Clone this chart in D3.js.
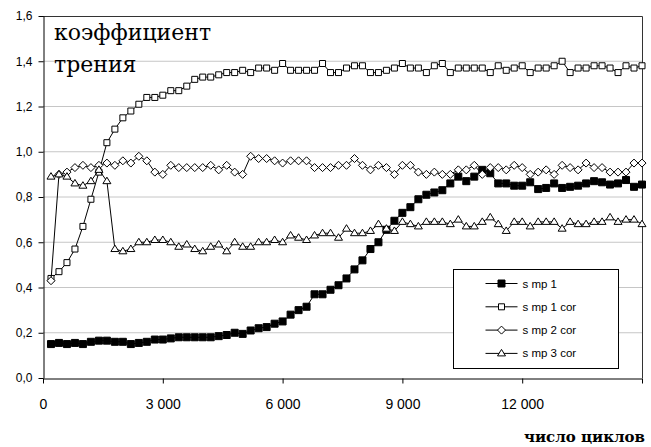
<!DOCTYPE html>
<html>
<head>
<meta charset="utf-8">
<script src="https://cdn.jsdelivr.net/npm/d3@7"></script>
<style>
  body { margin: 0; background: #fff; }
  svg { display: block; }
</style>
</head>
<body>
<div id="chart"></div>
<script>
// Chart size and plot area
const width = 651;
const height = 447;
const margin = { top: 16, right: 9, bottom: 69, left: 43 };

// Cycles (x values), one point every 200 cycles
const cycles = [
  200, 400, 600, 800, 1000, 1200, 1400, 1600, 1800, 2000,
  2200, 2400, 2600, 2800, 3000, 3200, 3400, 3600, 3800, 4000,
  4200, 4400, 4600, 4800, 5000, 5200, 5400, 5600, 5800, 6000,
  6200, 6400, 6600, 6800, 7000, 7200, 7400, 7600, 7800, 8000,
  8200, 8400, 8600, 8800, 9000, 9200, 9400, 9600, 9800, 10000,
  10200, 10400, 10600, 10800, 11000, 11200, 11400, 11600, 11800, 12000,
  12200, 12400, 12600, 12800, 13000, 13200, 13400, 13600, 13800, 14000,
  14200, 14400, 14600, 14800, 15000
];

// Friction coefficient series
const smp1 = [
  0.15, 0.155, 0.15, 0.155, 0.15, 0.16, 0.165, 0.165, 0.16, 0.16,
  0.15, 0.155, 0.16, 0.17, 0.17, 0.175, 0.18, 0.18, 0.18, 0.18,
  0.18, 0.185, 0.19, 0.20, 0.195, 0.21, 0.22, 0.225, 0.24, 0.25,
  0.28, 0.30, 0.315, 0.37, 0.37, 0.39, 0.41, 0.44, 0.48, 0.52,
  0.57, 0.60, 0.655, 0.695, 0.73, 0.755, 0.79, 0.81, 0.82, 0.83,
  0.86, 0.89, 0.87, 0.89, 0.92, 0.905, 0.86, 0.86, 0.85, 0.85,
  0.865, 0.835, 0.84, 0.86, 0.84, 0.845, 0.85, 0.86, 0.87, 0.865,
  0.855, 0.86, 0.875, 0.845, 0.855
];

const smp1cor = [
  0.44, 0.47, 0.51, 0.57, 0.67, 0.79, 0.91, 1.04, 1.10, 1.15,
  1.18, 1.21, 1.24, 1.24, 1.25, 1.27, 1.27, 1.29, 1.32, 1.33,
  1.33, 1.34, 1.35, 1.35, 1.36, 1.35, 1.37, 1.37, 1.36, 1.39,
  1.36, 1.36, 1.36, 1.36, 1.39, 1.35, 1.35, 1.37, 1.38, 1.38,
  1.35, 1.35, 1.36, 1.37, 1.39, 1.37, 1.37, 1.35, 1.38, 1.39,
  1.35, 1.37, 1.37, 1.37, 1.37, 1.35, 1.38, 1.36, 1.37, 1.38,
  1.35, 1.37, 1.37, 1.38, 1.40, 1.35, 1.37, 1.37, 1.38, 1.38,
  1.37, 1.35, 1.38, 1.37, 1.38
];

const smp2cor = [
  0.43, 0.90, 0.91, 0.93, 0.94, 0.93, 0.94, 0.95, 0.94, 0.96,
  0.95, 0.98, 0.96, 0.91, 0.90, 0.94, 0.93, 0.93, 0.93, 0.93,
  0.94, 0.92, 0.94, 0.91, 0.90, 0.98, 0.97, 0.97, 0.96, 0.95,
  0.96, 0.96, 0.96, 0.93, 0.93, 0.93, 0.94, 0.94, 0.97, 0.94,
  0.92, 0.94, 0.93, 0.90, 0.94, 0.94, 0.91, 0.90, 0.91, 0.90,
  0.90, 0.92, 0.92, 0.94, 0.90, 0.93, 0.93, 0.92, 0.94, 0.93,
  0.90, 0.91, 0.92, 0.90, 0.94, 0.93, 0.92, 0.95, 0.93, 0.93,
  0.91, 0.91, 0.91, 0.95, 0.95
];

const smp3cor = [
  0.89, 0.90, 0.89, 0.86, 0.85, 0.87, 0.92, 0.87, 0.57, 0.56,
  0.57, 0.60, 0.60, 0.61, 0.61, 0.60, 0.58, 0.59, 0.57, 0.56,
  0.58, 0.59, 0.56, 0.60, 0.58, 0.58, 0.60, 0.60, 0.61, 0.60,
  0.63, 0.62, 0.61, 0.63, 0.64, 0.64, 0.62, 0.66, 0.64, 0.64,
  0.65, 0.68, 0.66, 0.65, 0.69, 0.68, 0.67, 0.69, 0.69, 0.69,
  0.68, 0.70, 0.67, 0.67, 0.69, 0.71, 0.68, 0.65, 0.69, 0.69,
  0.67, 0.69, 0.69, 0.69, 0.66, 0.69, 0.68, 0.68, 0.69, 0.69,
  0.71, 0.69, 0.70, 0.70, 0.68
];

const seriesNames = ['s mp 1', 's mp 1 cor', 's mp 2 cor', 's mp 3 cor'];
const seriesValues = [smp1, smp1cor, smp2cor, smp3cor];
const markerTypes = ['filledSquare', 'square', 'diamond', 'triangle'];

// Axis ticks and titles
const xTicks = [0, 3000, 6000, 9000, 12000, 15000];
const xTickLabels = ['0', '3 000', '6 000', '9 000', '12 000', ''];
const yTicks = [0, 0.2, 0.4, 0.6, 0.8, 1.0, 1.2, 1.4, 1.6];
const yTitle = ['коэффициент', 'трения'];
const xTitle = 'число циклов';

const sansFont = "'Liberation Sans', Arial, sans-serif";
const serifFont = "'DejaVu Serif', serif";

const ruLocale = d3.formatLocale({ decimal: ',', thousands: ' ', grouping: [3], currency: ['', ''] });
const yFormat = ruLocale.format('.1f');

const svg = d3.select('#chart')
  .append('svg')
  .attr('width', width)
  .attr('height', height);

const xScale = d3.scaleLinear()
  .domain([0, 15000])
  .range([margin.left, width - margin.right]);

const yScale = d3.scaleLinear()
  .domain([0, 1.6])
  .range([height - margin.bottom, margin.top]);

// Horizontal gridlines
svg.append('g')
  .selectAll('line')
  .data(yTicks.slice(1, -1))
  .enter()
  .append('line')
  .attr('x1', margin.left)
  .attr('x2', width - margin.right)
  .attr('y1', d => yScale(d))
  .attr('y2', d => yScale(d))
  .attr('stroke', '#c6c6c6')
  .attr('stroke-width', 1);

// Top and right border of the plot area
svg.append('path')
  .attr('d', `M${margin.left},${yScale(1.6) + 0.5}H${xScale(15000) + 0.5}V${yScale(0)}`)
  .attr('fill', 'none')
  .attr('stroke', '#333')
  .attr('stroke-width', 1);

// Y axis
const yAxis = d3.axisLeft(yScale)
  .tickValues(yTicks)
  .tickFormat(yFormat)
  .tickSize(5)
  .tickSizeOuter(0);

svg.append('g')
  .attr('transform', `translate(${margin.left + 0.5}, 0)`)
  .call(yAxis)
  .call(g => g.selectAll('text')
    .attr('font-family', sansFont)
    .attr('font-size', 12)
    .attr('fill', '#000')
    .attr('dx', '-3'))
  .call(g => g.selectAll('line, path').attr('stroke', '#000'));

// X axis
const xAxis = d3.axisBottom(xScale)
  .tickValues(xTicks)
  .tickFormat((d, i) => xTickLabels[i])
  .tickSize(5)
  .tickSizeOuter(0);

svg.append('g')
  .attr('transform', `translate(0, ${yScale(0) + 0.5})`)
  .call(xAxis)
  .call(g => g.selectAll('text')
    .attr('font-family', sansFont)
    .attr('font-size', 14)
    .attr('fill', '#000')
    .attr('dy', '1.6em'))
  .call(g => g.selectAll('line, path').attr('stroke', '#000'));

// Marker path around (0,0)
function markerPath(type) {
  if (type === 'filledSquare') return 'M-3.5,-3.5H3.5V3.5H-3.5Z';
  if (type === 'square') return 'M-3,-3H3V3H-3Z';
  if (type === 'diamond') return 'M0,-4L4,0L0,4L-4,0Z';
  return 'M0,-4L4,2.5H-4Z';
}

const line = d3.line()
  .x((d, i) => xScale(cycles[i]))
  .y(d => yScale(d));

seriesValues.forEach((values, s) => {
  const g = svg.append('g');
  g.append('path')
    .datum(values)
    .attr('d', line)
    .attr('fill', 'none')
    .attr('stroke', '#000')
    .attr('stroke-width', 1);

  g.selectAll('.marker')
    .data(values)
    .enter()
    .append('path')
    .attr('class', 'marker')
    .attr('transform', (d, i) => `translate(${xScale(cycles[i])}, ${yScale(d)})`)
    .attr('d', markerPath(markerTypes[s]))
    .attr('fill', markerTypes[s] === 'filledSquare' ? '#000' : '#fff')
    .attr('stroke', '#000')
    .attr('stroke-width', 1);
});

// Legend
const legend = svg.append('g').attr('transform', 'translate(453.5, 269.5)');
legend.append('rect')
  .attr('width', 165)
  .attr('height', 99)
  .attr('fill', '#fff')
  .attr('stroke', '#000')
  .attr('stroke-width', 1);

seriesNames.forEach((name, s) => {
  const y = 14 + s * 23.3;
  legend.append('line')
    .attr('x1', 32).attr('x2', 64)
    .attr('y1', y).attr('y2', y)
    .attr('stroke', '#000');
  legend.append('path')
    .attr('transform', `translate(48, ${y})`)
    .attr('d', markerPath(markerTypes[s]))
    .attr('fill', markerTypes[s] === 'filledSquare' ? '#000' : '#fff')
    .attr('stroke', '#000');
  legend.append('text')
    .attr('x', 69)
    .attr('y', y + 4)
    .attr('font-family', sansFont)
    .attr('font-size', 11.5)
    .text(name);
});

// Titles inside plot and below
svg.selectAll('.ytitle')
  .data(yTitle)
  .enter()
  .append('text')
  .attr('class', 'ytitle')
  .attr('x', 54)
  .attr('y', (d, i) => 40 + i * 32)
  .attr('font-family', serifFont)
  .attr('font-size', 22)
  .attr('fill', '#000')
  .text(d => d);

svg.append('text')
  .attr('x', 645)
  .attr('y', 442)
  .attr('text-anchor', 'end')
  .attr('font-family', serifFont)
  .attr('font-size', 15)
  .attr('font-weight', 'bold')
  .attr('fill', '#000')
  .text(xTitle);
</script>
</body>
</html>
